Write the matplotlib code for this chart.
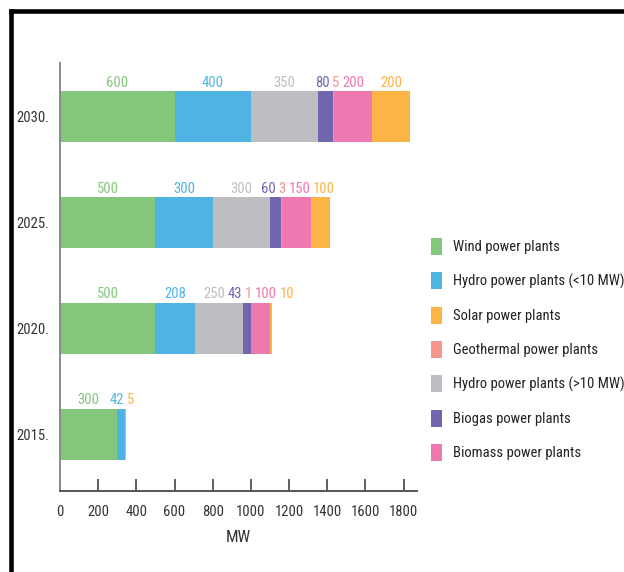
import numpy as np
import matplotlib
matplotlib.use('Agg')
import matplotlib.pyplot as plt
from matplotlib import font_manager
from matplotlib.patches import Patch
from matplotlib.lines import Line2D

# pick a narrow face if one is installed
have = {f.name for f in font_manager.fontManager.ttflist}
narrow = [n for n in ['Liberation Sans Narrow', 'DejaVu Sans Condensed', 'Roboto Condensed',
                      'Open Sans Condensed', 'Noto Sans Condensed', 'Liberation Sans'] if n in have]
plt.rcParams['font.family'] = narrow[:1] + ['DejaVu Sans']
stretch = 'condensed'

years = ['2015.', '2020.', '2025.', '2030.']
sources = ['Wind power plants', 'Hydro power plants (<10 MW)', 'Hydro power plants (>10 MW)',
           'Biogas power plants', 'Geothermal power plants', 'Biomass power plants',
           'Solar power plants']
wind = [300, 500, 500, 600]
hydro_small = [42, 208, 300, 400]
hydro_large = [0, 250, 300, 350]
biogas = [0, 43, 60, 80]
geothermal = [0, 1, 3, 5]
biomass = [0, 100, 150, 200]
solar = [5, 10, 100, 200]
legend_order = ['Wind power plants', 'Hydro power plants (<10 MW)', 'Solar power plants',
                'Geothermal power plants', 'Hydro power plants (>10 MW)',
                'Biogas power plants', 'Biomass power plants']

colors = {
    'Wind power plants': '#84c67b',
    'Hydro power plants (<10 MW)': '#4fb4e4',
    'Hydro power plants (>10 MW)': '#bdbec1',
    'Biogas power plants': '#6f66ae',
    'Geothermal power plants': '#f6958b',
    'Biomass power plants': '#ee78b0',
    'Solar power plants': '#fbb446',
}

series = [wind, hydro_small, hydro_large, biogas, geothermal, biomass, solar]

fig = plt.figure(figsize=(6.24, 5.72), dpi=100)
ax = fig.add_axes([0.0962, 0.141, 0.572, 0.749])

y = np.arange(len(years))
left = np.zeros(len(years))
labels = []  # (year index, center, text)
for name, vals in zip(sources, series):
    vals = np.array(vals, dtype=float)
    ax.barh(y, vals, left=left, height=0.48, color=colors[name], linewidth=0)
    for i, v in enumerate(vals):
        if v > 0:
            t = ax.text(left[i] + v / 2, y[i] + 0.255, f'{int(v)}', ha='center', va='bottom',
                        fontsize=10.5, color=colors[name], fontstretch=stretch)
            labels.append((i, left[i] + v / 2, t))
    left += vals

ax.set_xlim(0, 1870)
ax.set_ylim(-0.54, 3.51)
ax.set_xticks(range(0, 1801, 200))
ax.set_yticks(y)
ax.set_yticklabels(years)
ax.tick_params(axis='x', direction='in', length=9, width=1.1, color='#333333',
               pad=10, labelsize=10.5, labelcolor='#333333')
ax.tick_params(axis='y', length=0, pad=8, labelsize=10.5, labelcolor='#333333')
ax.set_xlabel('MW', fontsize=12, color='#333333', labelpad=8)
for lbl in ax.get_xticklabels() + ax.get_yticklabels() + [ax.xaxis.label]:
    lbl.set_fontstretch(stretch)
for s in ['top', 'right']:
    ax.spines[s].set_visible(False)
ax.spines['left'].set_color('#8a8a8a')
ax.spines['left'].set_linewidth(1.4)
ax.spines['bottom'].set_color('#555555')
ax.spines['bottom'].set_linewidth(1.4)

# spread overlapping value labels apart
fig.canvas.draw()
r = fig.canvas.get_renderer()
inv = ax.transData.inverted()
for yi in range(len(years)):
    row = [(c, t) for i, c, t in labels if i == yi]
    pos = [c for c, t in row]
    widths = []
    for c, t in row:
        bb = t.get_window_extent(r)
        x0 = inv.transform((bb.x0, bb.y0))[0]
        x1 = inv.transform((bb.x1, bb.y0))[0]
        widths.append(x1 - x0)
    gap = 14
    for _ in range(200):
        for k in range(len(pos) - 1):
            need = widths[k] / 2 + widths[k + 1] / 2 + gap
            d = pos[k + 1] - pos[k]
            if d < need:
                shift = (need - d) / 2
                pos[k] -= shift
                pos[k + 1] += shift
    for p, (c, t) in zip(pos, row):
        t.set_x(p)

handles = [Patch(facecolor=colors[n], edgecolor='none') for n in legend_order]
leg = fig.legend(handles, legend_order, loc='upper left', bbox_to_anchor=(0.682, 0.594),
                 frameon=False, fontsize=10.5, handlelength=0.7, handleheight=1.4,
                 handletextpad=0.8, labelspacing=1.2, borderaxespad=0)
for t in leg.get_texts():
    t.set_fontstretch(stretch)
    t.set_color('#222222')

# outer frame
fig.add_artist(Line2D([0.0176, 1.0], [0.9816, 0.9816], transform=fig.transFigure,
                      color='black', linewidth=3.3))
fig.add_artist(Line2D([0.0176, 0.0176], [0.0, 0.9816], transform=fig.transFigure,
                      color='black', linewidth=3.3))

fig.savefig('out.png', dpi=100)
